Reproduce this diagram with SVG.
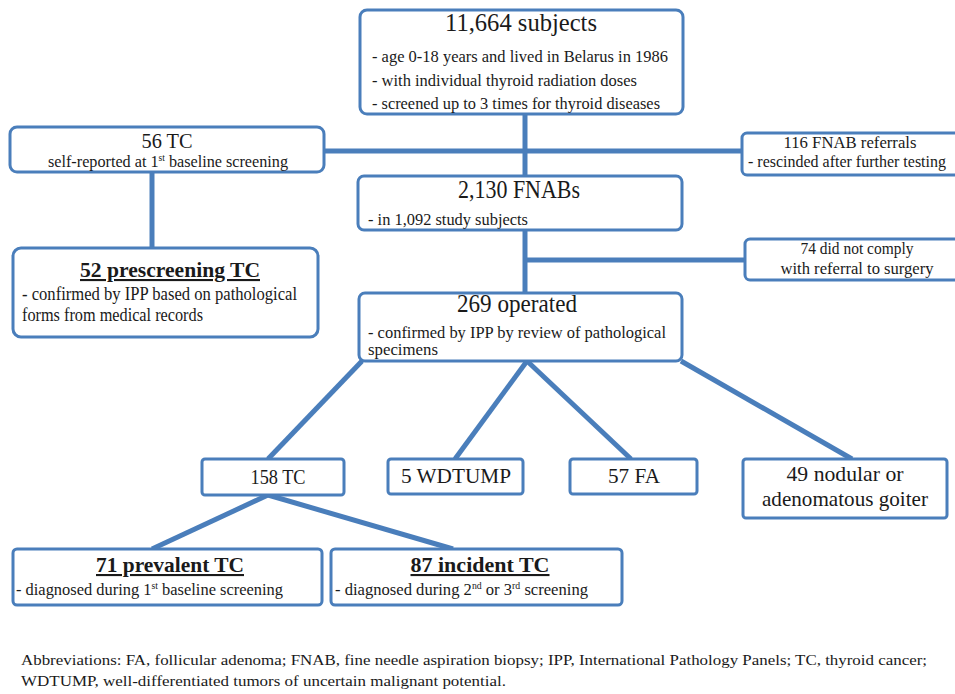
<svg xmlns="http://www.w3.org/2000/svg" width="955" height="694" viewBox="0 0 955 694">
<style>
.fcbox{fill:#fff;stroke:#4a7ebb;stroke-width:3}
.fcln{stroke:#4a7ebb;stroke-width:5;fill:none;stroke-linecap:butt}
.fcT{font-family:'Liberation Serif','Times New Roman',serif;font-size:25px;text-anchor:middle;fill:#1a1a1a}
.fcB{font-family:'Liberation Serif','Times New Roman',serif;font-size:21px;font-weight:bold;text-anchor:middle;text-decoration:underline;fill:#1a1a1a}
.fcS{font-family:'Liberation Serif','Times New Roman',serif;font-size:17px;fill:#1a1a1a}
.fcC{font-family:'Liberation Serif','Times New Roman',serif;font-size:17px;text-anchor:middle;fill:#1a1a1a}
.fcM{font-family:'Liberation Serif','Times New Roman',serif;font-size:22px;text-anchor:middle;fill:#1a1a1a}
.fcA{font-family:'Liberation Serif','Times New Roman',serif;font-size:15px;fill:#1a1a1a}
</style>
<rect width="955" height="694" fill="#fff"/>
<g id="connectors">
<line class="fcln" x1="525" y1="114" x2="525" y2="176"/>
<line class="fcln" x1="324" y1="151" x2="743" y2="151"/>
<line class="fcln" x1="152" y1="172" x2="152" y2="248"/>
<line class="fcln" x1="525" y1="230" x2="525" y2="294"/>
<line class="fcln" x1="525" y1="260" x2="746" y2="260"/>
<line class="fcln" x1="362" y1="361" x2="268" y2="459"/>
<line class="fcln" x1="527" y1="361" x2="455" y2="459"/>
<line class="fcln" x1="527" y1="361" x2="631" y2="459"/>
<line class="fcln" x1="681" y1="361" x2="852" y2="459"/>
<line class="fcln" x1="268" y1="495" x2="152" y2="549"/>
<line class="fcln" x1="268" y1="495" x2="453" y2="549"/>
</g>
<g id="n-subjects">
<rect class="fcbox" x="360" y="10" width="323" height="104" rx="7"/>
<text class="fcT" x="521" y="31" textLength="152" lengthAdjust="spacingAndGlyphs">11,664 subjects</text>
<text class="fcS" x="372" y="62" textLength="296" lengthAdjust="spacingAndGlyphs">- age 0-18 years and lived  in  Belarus  in 1986</text>
<text class="fcS" x="372" y="86" textLength="265" lengthAdjust="spacingAndGlyphs">- with  individual  thyroid  radiation  doses</text>
<text class="fcS" x="372" y="109" textLength="288" lengthAdjust="spacingAndGlyphs">- screened up to 3 times  for thyroid  diseases</text>
</g>
<g id="n-56tc">
<rect class="fcbox" x="10" y="127" width="314" height="45" rx="7"/>
<text class="fcT" x="167" y="148" style="font-size:22px" textLength="51" lengthAdjust="spacingAndGlyphs">56 TC</text>
<text class="fcS" x="48" y="167" textLength="240" lengthAdjust="spacingAndGlyphs">self-reported  at  1<tspan font-size="10" dy="-6">st</tspan><tspan dy="6"> baseline  screening</tspan></text>
</g>
<g id="n-116">
<rect class="fcbox" x="742" y="133" width="220" height="42" rx="5"/>
<text class="fcC" x="850" y="148" textLength="133" lengthAdjust="spacingAndGlyphs">116 FNAB referrals</text>
<text class="fcS" x="748" y="167" textLength="198" lengthAdjust="spacingAndGlyphs">- rescinded  after further  testing</text>
</g>
<g id="n-52">
<rect class="fcbox" x="13" y="248" width="305" height="89" rx="8"/>
<text class="fcB" x="170" y="277" textLength="180" lengthAdjust="spacingAndGlyphs">52 prescreening  TC</text>
<text class="fcS" x="22" y="300" style="font-size:18px" textLength="275" lengthAdjust="spacingAndGlyphs">- confirmed  by IPP based on pathological</text>
<text class="fcS" x="22" y="321" style="font-size:18px" textLength="181" lengthAdjust="spacingAndGlyphs">forms  from  medical  records</text>
</g>
<g id="n-2130">
<rect class="fcbox" x="358" y="176" width="324" height="54" rx="6"/>
<text class="fcT" x="519" y="198" textLength="122" lengthAdjust="spacingAndGlyphs">2,130 FNABs</text>
<text class="fcS" x="368" y="225" textLength="160" lengthAdjust="spacingAndGlyphs">- in  1,092 study  subjects</text>
</g>
<g id="n-74">
<rect class="fcbox" x="745" y="239" width="220" height="41" rx="5"/>
<text class="fcC" x="857" y="254" textLength="113" lengthAdjust="spacingAndGlyphs">74 did not  comply</text>
<text class="fcC" x="857" y="274" textLength="153" lengthAdjust="spacingAndGlyphs">with  referral  to surgery</text>
</g>
<g id="n-269">
<rect class="fcbox" x="359" y="293" width="323" height="68" rx="6"/>
<text class="fcT" x="517" y="312" textLength="120" lengthAdjust="spacingAndGlyphs">269 operated</text>
<text class="fcS" x="368" y="338" textLength="298" lengthAdjust="spacingAndGlyphs">- confirmed  by IPP by review  of pathological</text>
<text class="fcS" x="368" y="355" textLength="70" lengthAdjust="spacingAndGlyphs">specimens</text>
</g>
<g id="n-158">
<rect class="fcbox" x="202" y="459" width="142" height="36" rx="3"/>
<text class="fcM" x="278" y="484" textLength="55" lengthAdjust="spacingAndGlyphs">158 TC</text>
</g>
<g id="n-wdtump">
<rect class="fcbox" x="388" y="459" width="135" height="35" rx="3"/>
<text class="fcM" x="456" y="483" textLength="110" lengthAdjust="spacingAndGlyphs">5 WDTUMP</text>
</g>
<g id="n-fa">
<rect class="fcbox" x="570" y="459" width="127" height="35" rx="3"/>
<text class="fcM" x="634" y="483" textLength="52" lengthAdjust="spacingAndGlyphs">57 FA</text>
</g>
<g id="n-49">
<rect class="fcbox" x="743" y="459" width="204" height="59" rx="3"/>
<text class="fcM" x="845" y="481" textLength="117" lengthAdjust="spacingAndGlyphs">49 nodular or</text>
<text class="fcM" x="845" y="506" textLength="166" lengthAdjust="spacingAndGlyphs">adenomatous  goiter</text>
</g>
<g id="n-71">
<rect class="fcbox" x="13" y="549" width="309" height="56" rx="4"/>
<text class="fcB" x="170" y="572" textLength="148" lengthAdjust="spacingAndGlyphs">71 prevalent  TC</text>
<text class="fcS" x="16" y="595" textLength="267" lengthAdjust="spacingAndGlyphs">- diagnosed  during  1<tspan font-size="10" dy="-6">st</tspan><tspan dy="6"> baseline  screening</tspan></text>
</g>
<g id="n-87">
<rect class="fcbox" x="331" y="549" width="291" height="56" rx="4"/>
<text class="fcB" x="480" y="572" textLength="139" lengthAdjust="spacingAndGlyphs">87 incident  TC</text>
<text class="fcS" x="335" y="595" textLength="253" lengthAdjust="spacingAndGlyphs">- diagnosed  during  2<tspan font-size="10" dy="-6">nd</tspan><tspan dy="6"> or 3</tspan><tspan font-size="10" dy="-6">rd</tspan><tspan dy="6"> screening</tspan></text>
</g>
<g id="footnote">
<text class="fcA" x="21" y="665" textLength="906" lengthAdjust="spacingAndGlyphs">Abbreviations:  FA, follicular  adenoma;  FNAB, fine  needle  aspiration  biopsy;  IPP, International  Pathology  Panels;  TC,  thyroid  cancer;</text>
<text class="fcA" x="21" y="686" textLength="485" lengthAdjust="spacingAndGlyphs">WDTUMP,  well-differentiated  tumors  of uncertain  malignant  potential.</text>
</g>
</svg>
